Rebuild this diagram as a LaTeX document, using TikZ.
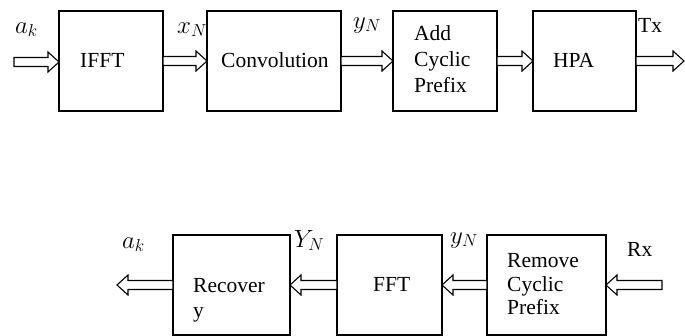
\documentclass[tikz,border=0pt]{standalone}
\usepackage{fontspec}
\setmainfont{Liberation Serif}
\usetikzlibrary{calc}
\tikzset{
  box/.style={draw, line width=1.2pt, inner sep=0pt, outer sep=0pt},
  txt/.style={anchor=base west, inner sep=0pt, font=\fontsize{21.5}{24}\selectfont},
  lab/.style={anchor=base west, inner sep=0pt, font=\fontsize{23}{26}\selectfont},
  arr/.style={draw, line width=1.1pt, line join=miter, fill=white},
}
\newcommand\blockarrow[2]{%
  \path[arr] let \p1=(#1), \p2=(#2), \n1={sign(\x2-\x1)} in
    (\x1,\y1+4.5pt) -- (\x2-\n1*11pt,\y1+4.5pt) -- (\x2-\n1*11pt,\y1+10pt) -- (\x2,\y1)
    -- (\x2-\n1*11pt,\y1-10pt) -- (\x2-\n1*11pt,\y1-4.5pt) -- (\x1,\y1-4.5pt) -- cycle;}
\begin{document}
\begin{tikzpicture}[x=1pt,y=-1pt]
\useasboundingbox (0,0) rectangle (685,335);
\clip (0,0) rectangle (685,335);
% transmitter boxes
\node[box, minimum width=104pt, minimum height=100pt] (ifft) at (111,61) {};
\node[box, minimum width=134pt, minimum height=100pt] (conv) at (274,61) {};
\node[box, minimum width=104pt, minimum height=100pt] (acp)  at (445,61) {};
\node[box, minimum width=103pt, minimum height=100pt] (hpa)  at (584.5,61) {};
% receiver boxes
\node[box, minimum width=117pt, minimum height=100pt] (rec)  at (231.5,285) {};
\node[box, minimum width=105pt, minimum height=100pt] (fft)  at (389.5,285) {};
\node[box, minimum width=119pt, minimum height=100pt] (rcp)  at (546.5,285) {};
% box texts
\node[txt] (t1) at (80,67) {IFFT};
\node[txt] (t2) at (221,67) {Convolution};
\node[txt] (t3a) at (414,40) {Add};
\node[txt] (t3b) at (414,66) {Cyclic};
\node[txt] (t3c) at (414,92) {Prefix};
\node[txt] (t4) at (553,67) {HPA};
\node[txt] (t5a) at (193,292) {Recover};
\node[txt] (t5b) at (193,317) {y};
\node[txt] (t6) at (373,291) {FFT};
\node[txt] (t7a) at (507,267) {Remove};
\node[txt] (t7b) at (507,291) {Cyclic};
\node[txt] (t7c) at (507,314) {Prefix};
% signal labels
\node[lab] (l1) at (15,33) {$a_k$};
\node[lab] (l2) at (177,33) {$x_N$};
\node[lab] (l3) at (353,28) {$y_N$};
\node[txt] (l4) at (638,32) {Tx};
\node[lab] (l5) at (122,248) {$a_k$};
\node[lab] (l6) at (294,247) {$Y_N$};
\node[lab] (l7) at (450,243) {$y_N$};
\node[txt] (l8) at (627,256) {Rx};
% free ends
\coordinate (in) at (14,62);
\coordinate (out) at (684,62);
\coordinate (rx) at (662,285);
\coordinate (ak) at (117,285);
% connectors
\blockarrow{in}{ifft.west}
\blockarrow{ifft.east}{conv.west}
\blockarrow{conv.east}{acp.west}
\blockarrow{acp.east}{hpa.west}
\blockarrow{hpa.east}{out}
\blockarrow{rx}{rcp.east}
\blockarrow{rcp.west}{fft.east}
\blockarrow{fft.west}{rec.east}
\blockarrow{rec.west}{ak}
\end{tikzpicture}
\end{document}
